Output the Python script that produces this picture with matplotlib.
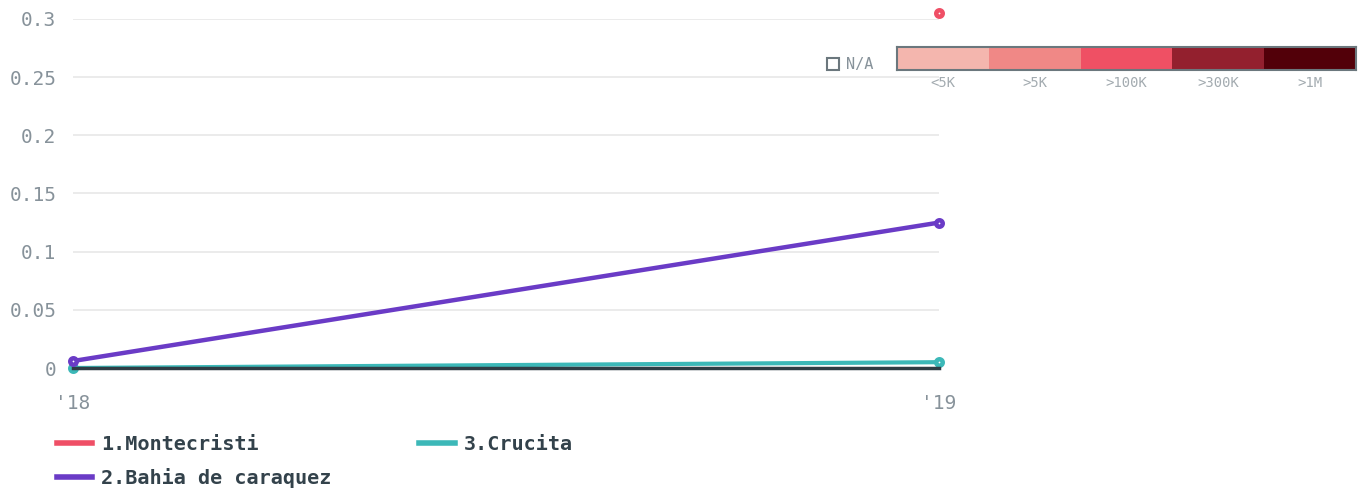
import matplotlib.pyplot as plt
from matplotlib.lines import Line2D
from matplotlib.patches import Rectangle

# chart data
years = ["'18", "'19"]
montecristi = [None, 0.305]
bahia = [0.006, 0.125]
crucita = [0.0, 0.005]

series_names = ['1.Montecristi', '2.Bahia de caraquez', '3.Crucita']
series_colors = ['#ef4f66', '#6a3bc6', '#3cb8b8']

yticks = [0, 0.05, 0.1, 0.15, 0.2, 0.25, 0.3]
ytick_labels = ['0', '0.05', '0.1', '0.15', '0.2', '0.25', '0.3']

scale_labels = ['<5K', '>5K', '>100K', '>300K', '>1M']
scale_colors = ['#f4b6ae', '#f08886', '#ef5064', '#93202e', '#520009']

plt.rcParams['font.family'] = ['DejaVu Sans Mono', 'DejaVu Sans']

W, H = 1364, 490
fig = plt.figure(figsize=(W / 100, H / 100), dpi=100)
ax = fig.add_axes([73 / W, 1 - 368 / H, (939 - 73) / W, (368 - 19) / H])

x = list(range(len(years)))
mk = dict(marker='o', markersize=4.65, markeredgewidth=3.25, markerfacecolor='white', clip_on=False)

# Montecristi only has a value for '19
mx = [i for i, v in zip(x, montecristi) if v is not None]
my = [v for v in montecristi if v is not None]
ax.plot(mx, my, color=series_colors[0], linewidth=3, zorder=4, markeredgecolor=series_colors[0], **mk)
ax.plot(x, crucita, color=series_colors[2], linewidth=3, zorder=3, markeredgecolor=series_colors[2], **mk)
ax.plot(x, bahia, color=series_colors[1], linewidth=3.2, zorder=5, markeredgecolor=series_colors[1], **mk)

ax.set_xlim(0, 1)
ax.set_ylim(0, 0.3)
ax.set_xticks(x)
ax.set_xticklabels(years)
ax.set_yticks(yticks)
ax.set_yticklabels(ytick_labels)
ax.tick_params(axis='both', length=0, labelsize=14, labelcolor='#87929a')
ax.tick_params(axis='x', pad=19)
ax.tick_params(axis='y', pad=12)
ax.grid(axis='y', color='#e9e9e9', linewidth=1.3)
ax.set_axisbelow(True)
for s in ['top', 'right', 'left']:
    ax.spines[s].set_visible(False)
ax.spines['bottom'].set_color('#2f3d45')
ax.spines['bottom'].set_linewidth(2.5)
ax.spines['bottom'].set_zorder(3.5)

# legend
handles = [Line2D([], [], color=c, linewidth=4) for c in series_colors]
leg = fig.legend(handles, series_names, ncol=2, loc='upper left', bbox_to_anchor=(57 / W, 1 - 435 / H),
                 frameon=False, borderpad=0, borderaxespad=0, handlelength=1.75, handletextpad=0.45,
                 columnspacing=4.35, labelspacing=0.68, prop={'size': 14.5, 'weight': 'bold'})
for t in leg.get_texts():
    t.set_color('#33424b')

# colour scale
cax = fig.add_axes([897 / W, 1 - 70 / H, (1356 - 897) / W, 23 / H])
cax.bar(range(len(scale_colors)), [1] * len(scale_colors), width=1, color=scale_colors)
cax.set_xlim(-0.5, len(scale_colors) - 0.5)
cax.set_ylim(0, 1)
cax.set_yticks([])
cax.set_xticks(range(len(scale_labels)))
cax.set_xticklabels(scale_labels)
cax.tick_params(axis='x', length=0, labelsize=10, labelcolor='#a3abb0', pad=4)
for s in cax.spines.values():
    s.set_color('#6b777d')
    s.set_linewidth(1.5)

fig.patches.append(Rectangle((827 / W, 1 - 70 / H), 12 / W, 12 / H, transform=fig.transFigure,
                             fill=False, edgecolor='#6b777d', linewidth=1.5))
fig.text(846 / W, 1 - 64 / H, 'N/A', fontsize=11, color='#87929a', va='center', ha='left')

fig.savefig('out.png', dpi=100)
